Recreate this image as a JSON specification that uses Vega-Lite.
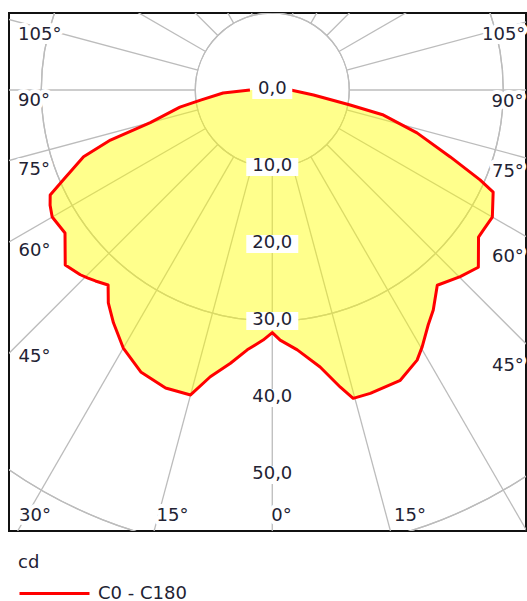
{
  "$schema": "https://vega.github.io/schema/vega-lite/v6.json",
  "width": 517,
  "height": 518,
  "autosize": {"type": "none"},
  "padding": {"left": 9, "top": 13, "right": 1, "bottom": 70},
  "background": "white",
  "config": {
    "view": {"stroke": "#111111", "strokeWidth": 2},
    "font": "DejaVu Sans",
    "text": {"font": "DejaVu Sans"}
  },
  "datasets": {
    "spokes": [
      {"a": -180}, {"a": -165}, {"a": -150}, {"a": -135}, {"a": -120}, {"a": -105},
      {"a": -90}, {"a": -75}, {"a": -60}, {"a": -45}, {"a": -30}, {"a": -15},
      {"a": 0}, {"a": 15}, {"a": 30}, {"a": 45}, {"a": 60}, {"a": 75},
      {"a": 90}, {"a": 105}, {"a": 120}, {"a": 135}, {"a": 150}, {"a": 165}
    ],
    "circles": [{"r": 10}, {"r": 20}, {"r": 30}, {"r": 40}, {"r": 50}],
    "curve": [
      {"a": -90, "cd": 2.9}, {"a": -86.5, "cd": 6.4}, {"a": -82, "cd": 9.4},
      {"a": -79.5, "cd": 12.2}, {"a": -75, "cd": 16.4}, {"a": -72.8, "cd": 22.0},
      {"a": -70.5, "cd": 26.0}, {"a": -66.7, "cd": 29.6}, {"a": -64.7, "cd": 31.9},
      {"a": -62.6, "cd": 32.5}, {"a": -60, "cd": 33.0}, {"a": -55.4, "cd": 32.7},
      {"a": -52.3, "cd": 34.0}, {"a": -49.8, "cd": 35.2}, {"a": -46.1, "cd": 34.6},
      {"a": -44.4, "cd": 34.2}, {"a": -42.8, "cd": 33.8}, {"a": -40.1, "cd": 33.1},
      {"a": -37.6, "cd": 34.9}, {"a": -34.3, "cd": 36.6}, {"a": -30, "cd": 38.7},
      {"a": -25, "cd": 40.4}, {"a": -19.7, "cd": 41.1}, {"a": -15, "cd": 41.0},
      {"a": -12.2, "cd": 38.1}, {"a": -8.7, "cd": 35.9}, {"a": -5.5, "cd": 33.9},
      {"a": -2.1, "cd": 32.5}, {"a": 0, "cd": 31.5}, {"a": 1.8, "cd": 32.5},
      {"a": 5.5, "cd": 33.9}, {"a": 9.8, "cd": 36.5}, {"a": 12.9, "cd": 39.6},
      {"a": 14.7, "cd": 41.4}, {"a": 17.9, "cd": 41.4}, {"a": 23.8, "cd": 41.2},
      {"a": 28.2, "cd": 39.8}, {"a": 30.3, "cd": 38.6}, {"a": 33.6, "cd": 36.6},
      {"a": 36.2, "cd": 35.4}, {"a": 40.2, "cd": 33.2}, {"a": 45.2, "cd": 34.4},
      {"a": 49.3, "cd": 35.3}, {"a": 54.5, "cd": 32.9}, {"a": 56.4, "cd": 32.9},
      {"a": 60, "cd": 33.0}, {"a": 65.2, "cd": 31.6}, {"a": 66.6, "cd": 29.4},
      {"a": 69.4, "cd": 24.7}, {"a": 73.5, "cd": 19.6}, {"a": 77.3, "cd": 14.8},
      {"a": 79.1, "cd": 10.3}, {"a": 83, "cd": 5.4}, {"a": 90, "cd": 2.4}
    ],
    "rlabels": [
      {"v": 0, "t": "0,0"}, {"v": 10, "t": "10,0"}, {"v": 20, "t": "20,0"},
      {"v": 30, "t": "30,0"}, {"v": 40, "t": "40,0"}, {"v": 50, "t": "50,0"}
    ],
    "alabels": [
      {"t": "105°", "x": -30.2, "y": 7.14},
      {"t": "90°", "x": -30.95, "y": -1.43},
      {"t": "75°", "x": -30.95, "y": -10.45},
      {"t": "60°", "x": -30.88, "y": -20.97},
      {"t": "45°", "x": -30.88, "y": -34.68},
      {"t": "30°", "x": -30.82, "y": -55.32},
      {"t": "15°", "x": -12.96, "y": -55.32},
      {"t": "0°", "x": 1.19, "y": -55.32},
      {"t": "15°", "x": 17.88, "y": -55.32},
      {"t": "105°", "x": 30.05, "y": 7.14},
      {"t": "90°", "x": 30.55, "y": -1.56},
      {"t": "75°", "x": 30.6, "y": -10.65},
      {"t": "60°", "x": 30.6, "y": -21.69},
      {"t": "45°", "x": 30.6, "y": -35.84}
    ]
  },
  "layer": [
    {
      "data": {"name": "spokes"},
      "transform": [
        {"calculate": "10*sin(datum.a*PI/180)", "as": "x1"},
        {"calculate": "-10*cos(datum.a*PI/180)", "as": "y1"},
        {"calculate": "90*sin(datum.a*PI/180)", "as": "x2"},
        {"calculate": "-90*cos(datum.a*PI/180)", "as": "y2"}
      ],
      "mark": {"type": "rule", "clip": true, "color": "#bcbcbc", "strokeWidth": 1.3},
      "encoding": {
        "x": {"field": "x1", "type": "quantitative", "scale": {"domain": [-34.19, 32.95], "nice": false, "zero": false}, "axis": null},
        "y": {"field": "y1", "type": "quantitative", "scale": {"domain": [-57.27, 10], "nice": false, "zero": false}, "axis": null},
        "x2": {"field": "x2"},
        "y2": {"field": "y2"}
      }
    },
    {
      "data": {"name": "circles"},
      "mark": {"type": "arc", "clip": true, "filled": false, "stroke": "#bcbcbc", "strokeWidth": 1.3, "theta": 0, "theta2": 6.2832},
      "encoding": {
        "x": {"datum": 0, "type": "quantitative"},
        "y": {"datum": 0, "type": "quantitative"},
        "radius": {"field": "r", "type": "quantitative", "scale": {"type": "linear", "domain": [0, 50], "range": [0, 385]}}
      }
    },
    {
      "data": {"name": "curve"},
      "transform": [
        {"calculate": "datum.cd*sin(datum.a*PI/180)", "as": "px"},
        {"calculate": "-datum.cd*cos(datum.a*PI/180)", "as": "py"}
      ],
      "mark": {"type": "line", "fill": "#ffff00", "fillOpacity": 0.45, "strokeWidth": 3, "interpolate": "linear", "strokeJoin": "round"},
      "encoding": {
        "x": {"field": "px", "type": "quantitative"},
        "y": {"field": "py", "type": "quantitative"},
        "order": {"field": "a", "type": "quantitative"},
        "stroke": {
          "datum": "C0 - C180",
          "type": "nominal",
          "scale": {"range": ["#ff0000"]},
          "legend": {
            "title": "cd",
            "orient": "none",
            "legendX": 9,
            "legendY": 541,
            "padding": 0,
            "titleFontSize": 18,
            "titleFontWeight": "normal",
            "titleFont": "DejaVu Sans",
            "titleColor": "#222233",
            "titlePadding": -15,
            "labelFontSize": 18,
            "labelFont": "DejaVu Sans",
            "labelColor": "#222233",
            "labelOffset": 7,
            "symbolType": "stroke",
            "symbolSize": 4900,
            "symbolStrokeWidth": 3
          }
        }
      }
    },
    {
      "data": {"name": "rlabels"},
      "transform": [{"filter": "datum.v > 0"}, {"calculate": "-datum.v", "as": "ly"}],
      "mark": {"type": "rect", "fill": "white", "width": 52, "height": 18},
      "encoding": {
        "x": {"datum": 0, "type": "quantitative"},
        "y": {"field": "ly", "type": "quantitative"}
      }
    },
    {
      "data": {"name": "rlabels"},
      "transform": [{"filter": "datum.v == 0"}, {"calculate": "-datum.v", "as": "ly"}],
      "mark": {"type": "rect", "fill": "white", "width": 40, "height": 18},
      "encoding": {
        "x": {"datum": 0, "type": "quantitative"},
        "y": {"field": "ly", "type": "quantitative"}
      }
    },
    {
      "data": {"name": "rlabels"},
      "transform": [{"calculate": "-datum.v", "as": "ly"}],
      "mark": {"type": "text", "fontSize": 18, "align": "center", "baseline": "middle", "dy": -1, "color": "#222233"},
      "encoding": {
        "x": {"datum": 0, "type": "quantitative"},
        "y": {"field": "ly", "type": "quantitative"},
        "text": {"field": "t"}
      }
    },
    {
      "data": {"name": "alabels"},
      "mark": {"type": "text", "fontSize": 18, "align": "center", "baseline": "middle", "fill": "white", "stroke": "white", "strokeWidth": 8, "strokeJoin": "round"},
      "encoding": {
        "x": {"field": "x", "type": "quantitative"},
        "y": {"field": "y", "type": "quantitative"},
        "text": {"field": "t"}
      }
    },
    {
      "data": {"name": "alabels"},
      "mark": {"type": "text", "fontSize": 18, "align": "center", "baseline": "middle", "color": "#222233"},
      "encoding": {
        "x": {"field": "x", "type": "quantitative"},
        "y": {"field": "y", "type": "quantitative"},
        "text": {"field": "t"}
      }
    }
  ]
}
